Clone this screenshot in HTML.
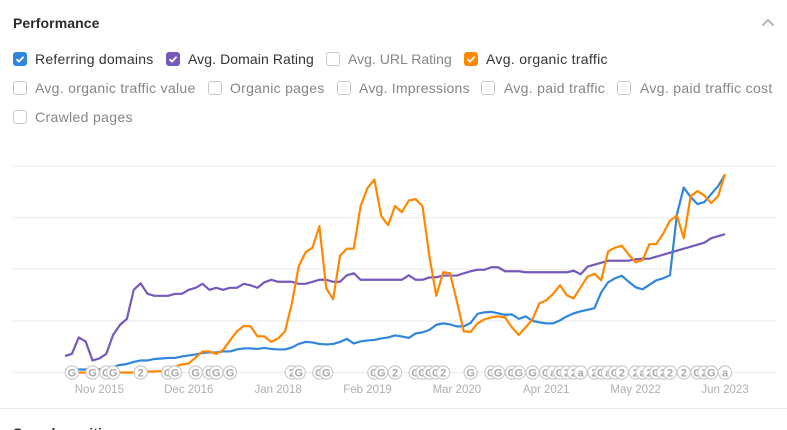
<!DOCTYPE html>
<html lang="en">
<head>
<meta charset="utf-8">
<title>Performance</title>
<style>
html,body{margin:0;padding:0;background:#fff;width:787px;height:430px;overflow:hidden;}
#page{position:relative;width:787px;height:430px;overflow:hidden;font-family:"Liberation Sans",sans-serif;}
.title{position:absolute;left:13px;top:15px;font-size:14px;line-height:16px;font-weight:bold;color:#2b2b2b;letter-spacing:.08px;}
.cb{position:absolute;width:14px;height:14px;box-sizing:border-box;border:1px solid #c8c8c8;border-radius:3px;background:#fff;}
.cb.on{border:none;}
.cb svg{position:absolute;left:0;top:0;}
.lbl{position:absolute;font-size:14px;line-height:16px;color:#858585;white-space:nowrap;}
.lbl.on{color:#333;}
#chart{position:absolute;left:0;top:0;}
.divider{position:absolute;left:0;top:408px;width:787px;height:1px;background:#e8e8e8;}
.next{position:absolute;left:13px;top:425px;font-size:14px;line-height:16px;font-weight:bold;color:#2b2b2b;letter-spacing:.08px;}
</style>
</head>
<body>
<div id="page">
<div class="title">Performance</div>
<svg style="position:absolute;left:761px;top:18px" width="14" height="9"><path d="M1.5 7.5 L7 2 L12.5 7.5" fill="none" stroke="#b5b5b5" stroke-width="2"/></svg>

<div class="cb on" style="left:13px;top:52px;background:#2f86dc"><svg width="14" height="14"><path d="M3.5 7.2 L6 9.6 L10.6 4.8" fill="none" stroke="#fff" stroke-width="1.8"/></svg></div>
<div class="lbl on" style="left:35px;top:51px;letter-spacing:.24px">Referring domains</div>
<div class="cb on" style="left:166px;top:52px;background:#7559bd"><svg width="14" height="14"><path d="M3.5 7.2 L6 9.6 L10.6 4.8" fill="none" stroke="#fff" stroke-width="1.8"/></svg></div>
<div class="lbl on" style="left:188px;top:51px;letter-spacing:.09px">Avg. Domain Rating</div>
<div class="cb" style="left:326px;top:52px"></div>
<div class="lbl" style="left:348px;top:51px;letter-spacing:.02px">Avg. URL Rating</div>
<div class="cb on" style="left:464px;top:52px;background:#ff8800"><svg width="14" height="14"><path d="M3.5 7.2 L6 9.6 L10.6 4.8" fill="none" stroke="#fff" stroke-width="1.8"/></svg></div>
<div class="lbl on" style="left:486px;top:51px;letter-spacing:.32px">Avg. organic traffic</div>

<div class="cb" style="left:13px;top:81px"></div>
<div class="lbl" style="left:35px;top:80px;letter-spacing:.3px">Avg. organic traffic value</div>
<div class="cb" style="left:208px;top:81px"></div>
<div class="lbl" style="left:230px;top:80px;letter-spacing:.27px">Organic pages</div>
<div class="cb" style="left:337px;top:81px"></div>
<div class="lbl" style="left:359px;top:80px;letter-spacing:.23px">Avg. Impressions</div>
<div class="cb" style="left:481px;top:81px"></div>
<div class="lbl" style="left:504px;top:80px;letter-spacing:.3px">Avg. paid traffic</div>
<div class="cb" style="left:617px;top:81px"></div>
<div class="lbl" style="left:640px;top:80px;letter-spacing:.32px">Avg. paid traffic cost</div>

<div class="cb" style="left:13px;top:110px"></div>
<div class="lbl" style="left:35px;top:109px;letter-spacing:.34px">Crawled pages</div>

<svg id="chart" width="787" height="430"></svg>

<div class="divider"></div>
<div class="next">Search positions</div>
</div>

<script>
const tickLabels = ["Nov 2015","Dec 2016","Jan 2018","Feb 2019","Mar 2020","Apr 2021","May 2022","Jun 2023"];
const tickMonths = [5,18,31,44,57,70,83,96];
const gridValues = [0,51.5,103,154.5,206];
const domainRating = [16.5,18.5,35,31,12,14,18.5,37.5,47.5,53.5,82.5,89,78.5,76.5,76.5,76.5,78.5,78.5,82.5,84.5,88.5,82.5,84.5,82.5,84.5,84.5,88.5,87,84.5,90,92.5,90.5,90.5,90.5,88.5,88.5,90.5,92.5,92.5,90.5,90.5,97,99,92.5,92.5,92.5,92.5,92.5,92.5,92.5,97,92.5,92.5,94.8,95,96.7,96.7,96.7,99,101,102.5,102.5,105,105,101,101,101,100,100,100,100,100,100,100,101.5,98,105.5,107.5,109.5,111.5,111.5,111.5,111.5,113,113.5,113.5,115.5,117.5,119.5,121.5,123.5,125.5,127.5,129.5,134,136,138];
const referringDomains = [2.5,2.5,3,3,4,3,4,5.5,7.5,8.5,10.5,12,12,13.5,14,14.5,14.5,16,17,18,19.5,20,20,21,21,23,24,24,23.5,24.5,23.5,23,23,25,28.5,30.5,30,28.5,28,28.5,30.5,33.5,29,31,32,32.5,34,35,37,36,34.5,39,40,42.5,47.5,49,48,46,46,49.5,58.5,60,60.5,59,57.5,58,53.5,56,51.5,50,49,49,52,56,59,61,62.5,64,80,90,94,96.5,90.5,85,83,87.5,92,94,97,157.5,184.5,175,168,170,178,186,197.5];
const organicTraffic = [0,0,0,0,0,0,0,0,0,0,0,0,1,1,1.5,3,6,8,9,15,21,21,18.5,22.5,32,41,46.5,46,36,36,30.5,34,41,69,106,120,124.5,146,84,73,116.5,123.5,123.5,166,184,192.5,156,147,166,160,171.5,173,166,116,76.5,100,99,71,41,40.5,49,53,55,56,55,45,37.5,45,53,69,72,78.5,87,77,74,85,95.5,98.5,92,121,124.5,126.5,117.5,110,112,128,128,138.5,151.5,156.5,134,176,181,176.5,169,176,198];
const eventMonths = [1,4,6,7,11,15,16,19,21,22,24,33,34,37,38,45,46,48,51,52,53,54,55,59,62,63,65,66,68,70,71,72,73,74,75,77,78,79,80,81,83,84,85,86,87,88,90,92,93,94,96];
const eventLabels = ["G","G","G","G","2","G","G","G","G","G","G","2","G","G","G","G","G","2","G","G","G","G","2","G","G","G","G","G","G","G","a","G","2","2","a","2","G","a","G","2","2","a","2","G","2","2","2","G","2","G","a"];

const NS = "http://www.w3.org/2000/svg";
const svg = document.getElementById("chart");
const xStart = 65, monthStep = 6.875, yBase = 372.5, plotHeight = 206.5, yMax = 206;
const xScale = m => xStart + m * monthStep;
const yScale = v => yBase - v / yMax * plotHeight;

gridValues.forEach(v => {
  const l = document.createElementNS(NS, "line");
  l.setAttribute("x1", 13);
  l.setAttribute("x2", 777);
  l.setAttribute("y1", yScale(v));
  l.setAttribute("y2", yScale(v));
  l.setAttribute("stroke", "#eeeeee");
  l.setAttribute("stroke-width", "1.2");
  
  
  svg.appendChild(l);
});

function drawLine(values, color, name) {
  const p = document.createElementNS(NS, "polyline");
  p.setAttribute("points", values.map((v, i) => xScale(i).toFixed(2) + "," + yScale(v).toFixed(2)).join(" "));
  p.setAttribute("fill", "none");
  p.setAttribute("stroke", color);
  p.setAttribute("stroke-width", "2.2");
  p.setAttribute("stroke-linejoin", "round");
  
  
  svg.appendChild(p);
}
drawLine(domainRating, "#7559bd", "domain-rating-line");
drawLine(referringDomains, "#2f86dc", "referring-domains-line");
drawLine(organicTraffic, "#ff8800", "organic-traffic-line");

tickLabels.forEach((t, i) => {
  const e = document.createElementNS(NS, "text");
  e.setAttribute("x", xScale(tickMonths[i]));
  e.setAttribute("y", 393);
  e.setAttribute("text-anchor", "middle");
  e.setAttribute("font-size", "11.5");
  e.setAttribute("fill", "#b0b0b0");
  e.setAttribute("font-family", '"Liberation Sans", sans-serif');
  e.textContent = t;
  
  
  svg.appendChild(e);
});

eventMonths.forEach((m, i) => {
  const g = document.createElementNS(NS, "g");
  
  
  const c = document.createElementNS(NS, "circle");
  c.setAttribute("cx", xScale(m));
  c.setAttribute("cy", yBase);
  c.setAttribute("r", 6.6);
  c.setAttribute("fill", "#fff");
  c.setAttribute("stroke", "#cccccc");
  c.setAttribute("stroke-width", "1.2");
  g.appendChild(c);
  const t = document.createElementNS(NS, "text");
  t.setAttribute("x", xScale(m));
  t.setAttribute("y", yBase + 3.9);
  t.setAttribute("text-anchor", "middle");
  t.setAttribute("font-size", "11");
  t.setAttribute("font-weight", "bold");
  t.setAttribute("fill", "#a8a8a8");
  t.setAttribute("font-family", '"Liberation Sans", sans-serif');
  t.textContent = eventLabels[i];
  g.appendChild(t);
  svg.appendChild(g);
});
</script>
</body>
</html>
